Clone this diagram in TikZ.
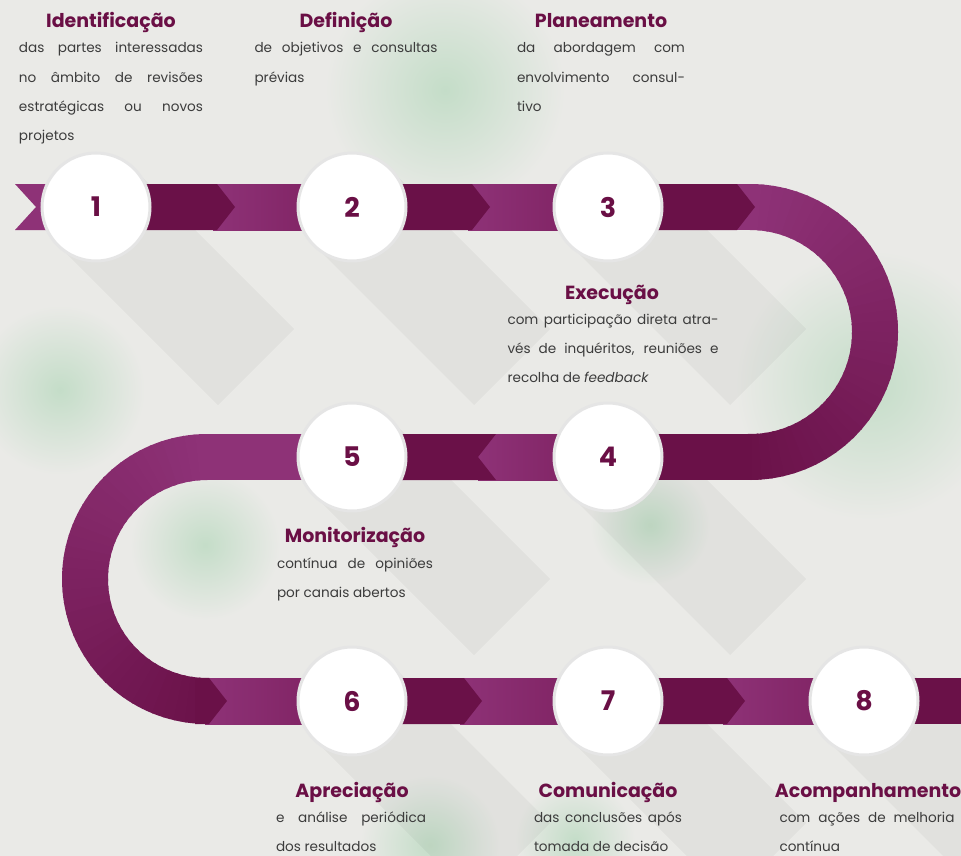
\documentclass[tikz,border=0pt]{standalone}
\usepackage{fontspec}
\setmainfont{Poppins}
\usepackage{xcolor}
\usetikzlibrary{calc}
\tolerance=10000
\hyphenpenalty=10000
\definecolor{bgGray}{HTML}{EAEAE7}
\definecolor{leafGreen}{HTML}{C4DDC8}
\definecolor{ribLight}{HTML}{8E3277}
\definecolor{ribMid}{HTML}{7C1F5E}
\definecolor{ribDark}{HTML}{6A1148}
\definecolor{titleCol}{HTML}{6A0F45}
\definecolor{bodyCol}{HTML}{3C3C3C}
\tikzstyle{stepcircle} = [circle, minimum size=108pt, inner sep=0pt, fill=white, draw=black!10, line width=3pt, text=titleCol, font=\fontsize{27}{27}\selectfont\bfseries]
\tikzstyle{steptitle} = [anchor=base, inner sep=0pt, text=titleCol, font=\fontsize{19}{19}\selectfont\bfseries]
\tikzstyle{stepbody} = [anchor=base, inner sep=0pt, text=bodyCol, align=justify, font=\fontsize{13.6}{29.3}\selectfont]
\tikzstyle{band} = [line width=46pt]

\begin{document}
\begin{tikzpicture}[x=1pt, y=-1pt]
\useasboundingbox (0,0) rectangle (961,856);
\fill[bgGray] (0,0) rectangle (961,856);

% blurred leaves in the back
\foreach \lx/\ly/\lr in {445/90/120, 60/390/85, 205/545/75, 870/385/135, 430/845/70, 575/840/60, 650/525/60}
  \shade[inner color=leafGreen, outer color=bgGray] (\lx,\ly) circle (\lr);

% circle centres
\coordinate (p1) at (96,207);
\coordinate (p2) at (352,207);
\coordinate (p3) at (608,207);
\coordinate (p4) at (608,457);
\coordinate (p5) at (352,457);
\coordinate (p6) at (352,701);
\coordinate (p7) at (608,701);
\coordinate (p8) at (864,701);

% long shadows
\foreach \i in {1,...,8}
  \fill[black, opacity=0.035] ($(p\i)+(38,-38)$) -- ++(160,160) -- ++(-76,76) -- ($(p\i)+(-38,38)$) -- cycle;

% ribbon
\fill[ribLight] (15,184) -- (100,184) -- (100,230) -- (15,230) -- (36,207) -- cycle;
\draw[band, ribLight] (90,207) -- (751,207);
\draw[band, ribLight] (751,457) -- (206,457);
\draw[band, ribLight] (206,701) -- (961,701);
\foreach \a in {-90,-85.5,...,86} {
  \pgfmathtruncatemacro\pc{(\a+90)/1.8}
  \draw[band, ribDark!\pc!ribLight] (750,332) ++(\a:125) arc[start angle=\a, end angle=\a+5.5, radius=125];
}
\foreach \a in {270,265.5,...,94} {
  \pgfmathtruncatemacro\pc{(270-\a)/1.8}
  \draw[band, ribDark!\pc!ribLight] (207,579) ++(\a:122) arc[start angle=\a, end angle=\a-5.5, radius=122];
}
\foreach \xa/\xb/\yy in {213/352/207, 468/608/207, 205/352/701, 460/608/701, 723/864/701, 478/608/457}
  \shade[left color=ribLight, right color=ribMid] (\xa,\yy-23) rectangle (\xb,\yy+23);
\foreach \xa/\tip/\yy in {145/235/207, 400/490/207, 655/755/207, 195/227/701, 400/482/701, 655/745/701}
  \fill[ribDark] (\xa,\yy-23) -- (\tip-18,\yy-23) -- (\tip,\yy) -- (\tip-18,\yy+23) -- (\xa,\yy+23) -- cycle;
\fill[ribDark] (400,434) -- (496,434) -- (478,457) -- (496,480) -- (400,480) -- cycle;
\fill[ribDark] (600,434) rectangle (752,480);
\fill[ribDark] (915,678) rectangle (961,724);

% steps
\foreach \i in {1,...,8}
  \node[stepcircle] (n\i) at (p\i) {\i};

\node[steptitle] (ident) at (111,28) {Identificação};
\node[stepbody, text width=184pt] (identtxt) at (111,53) {das partes interessadas\linebreak no âmbito de revisões\linebreak estratégicas ou novos\linebreak projetos};

\node[steptitle] (defin) at (346,28) {Definição};
\node[stepbody, text width=183pt] (defintxt) at (346,53) {de objetivos e consultas\linebreak prévias};

\node[steptitle] (plan) at (601,28) {Planeamento};
\node[stepbody, text width=168pt] (plantxt) at (601,53) {da abordagem com\linebreak envolvimento consul-\linebreak tivo};

\node[steptitle] (exec) at (612,299) {Execução};
\node[stepbody, text width=211pt] (exectxt) at (613,324) {com participação direta atra-\linebreak vés de inquéritos, reuniões e\linebreak recolha de \textit{feedback}};

\node[steptitle] (monit) at (355,542) {Monitorização};
\node[stepbody, text width=156pt] (monittxt) at (355,568) {contínua de opiniões\linebreak por canais abertos};

\node[steptitle] (aprec) at (352,797) {Apreciação};
\node[stepbody, text width=150pt] (aprectxt) at (351,822) {e análise periódica\linebreak dos resultados};

\node[steptitle] (comun) at (608,797) {Comunicação};
\node[stepbody, text width=148pt] (comuntxt) at (608,822) {das conclusões após\linebreak tomada de decisão};

\node[steptitle] (acomp) at (868,797) {Acompanhamento};
\node[stepbody, text width=175pt] (acomptxt) at (867,822) {com ações de melhoria\linebreak contínua};

\end{tikzpicture}
\end{document}
